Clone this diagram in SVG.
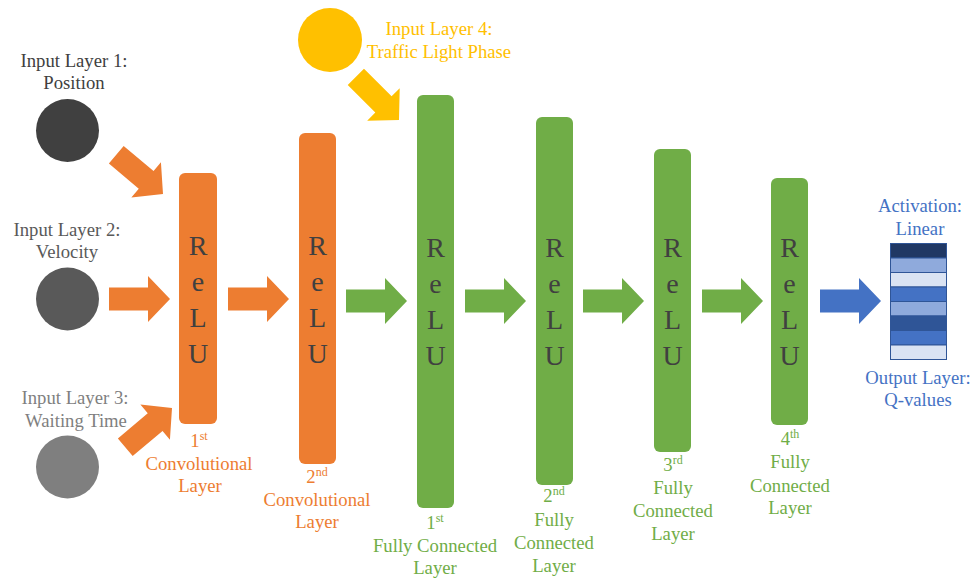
<svg xmlns="http://www.w3.org/2000/svg" xmlns:xlink="http://www.w3.org/1999/xlink" width="979" height="581" viewBox="0 0 979 581">
<style>
text{font-size:18.7px;text-anchor:middle}
.relu{font-size:28px;fill:#404040}
.or{fill:#ED7D31}.gr{fill:#70AD47}.bl{fill:#4472C4}.ye{fill:#FFC000}
.sup{font-size:12px}
.stripe{stroke:#2F5597;stroke-width:1}
</style>
<defs>
<path id="arr" d="M-61,-11.5 H-22 V-23 L0,0 L-22,23 V11.5 H-61 Z"/>
</defs>
<rect width="979" height="581" fill="#fff"/>
<g id="connectors">
<use xlink:href="#arr" class="or" transform="translate(163,194) rotate(40)"/>
<use xlink:href="#arr" class="or" transform="translate(170,299)"/>
<use xlink:href="#arr" class="or" transform="translate(172,408) rotate(-40)"/>
<use xlink:href="#arr" class="ye" transform="translate(399,120) rotate(45)"/>
<use xlink:href="#arr" class="or" transform="translate(289,299)"/>
<use xlink:href="#arr" class="gr" transform="translate(407,301)"/>
<use xlink:href="#arr" class="gr" transform="translate(526,301)"/>
<use xlink:href="#arr" class="gr" transform="translate(644,301)"/>
<use xlink:href="#arr" class="gr" transform="translate(763,301)"/>
<use xlink:href="#arr" class="bl" transform="translate(881,301)"/>
</g>
<g font-family="Liberation Serif, Tinos, DejaVu Serif, serif">
<g id="input1">
<circle cx="67.5" cy="130.5" r="31.5" fill="#404040"/>
<text x="74" y="67" fill="#404040">Input Layer 1:</text>
<text x="74" y="89" fill="#404040">Position</text>
</g>
<g id="input2">
<circle cx="67.5" cy="299" r="31.5" fill="#595959"/>
<text x="67" y="236" fill="#595959">Input Layer 2:</text>
<text x="67" y="258" fill="#595959">Velocity</text>
</g>
<g id="input3">
<circle cx="67.5" cy="467" r="31.5" fill="#7F7F7F"/>
<text x="75" y="404" fill="#7F7F7F">Input Layer 3:</text>
<text x="76" y="427" fill="#7F7F7F">Waiting Time</text>
</g>
<g id="input4">
<circle cx="330" cy="40" r="32" fill="#FFC000"/>
<text x="439" y="35" class="ye">Input Layer 4:</text>
<text x="439" y="58" class="ye">Traffic Light Phase</text>
</g>
<g id="conv1">
<rect x="179" y="173" width="38" height="251" rx="6" class="or"/>
<text x="198" y="255" class="relu">R</text>
<text x="198" y="291" class="relu">e</text>
<text x="198" y="327" class="relu">L</text>
<text x="198" y="363" class="relu">U</text>
<text x="199" y="447" class="or">1<tspan class="sup" dy="-7">st</tspan></text>
<text x="199" y="470" class="or">Convolutional</text>
<text x="200" y="492" class="or">Layer</text>
</g>
<g id="conv2">
<rect x="299" y="133" width="37" height="331" rx="6" class="or"/>
<text x="317.5" y="255" class="relu">R</text>
<text x="317.5" y="291" class="relu">e</text>
<text x="317.5" y="327" class="relu">L</text>
<text x="317.5" y="363" class="relu">U</text>
<text x="317" y="483" class="or">2<tspan class="sup" dy="-7">nd</tspan></text>
<text x="317" y="506" class="or">Convolutional</text>
<text x="317" y="528" class="or">Layer</text>
</g>
<g id="fc1">
<rect x="417" y="95" width="37" height="413" rx="6" class="gr"/>
<text x="435.5" y="257" class="relu">R</text>
<text x="435.5" y="293" class="relu">e</text>
<text x="435.5" y="329" class="relu">L</text>
<text x="435.5" y="365" class="relu">U</text>
<text x="435" y="529" class="gr">1<tspan class="sup" dy="-7">st</tspan></text>
<text x="435" y="552" class="gr">Fully Connected</text>
<text x="435" y="574" class="gr">Layer</text>
</g>
<g id="fc2">
<rect x="536" y="117" width="37" height="368" rx="6" class="gr"/>
<text x="554.5" y="257" class="relu">R</text>
<text x="554.5" y="293" class="relu">e</text>
<text x="554.5" y="329" class="relu">L</text>
<text x="554.5" y="365" class="relu">U</text>
<text x="554" y="502" class="gr">2<tspan class="sup" dy="-7">nd</tspan></text>
<text x="554" y="526" class="gr">Fully</text>
<text x="554" y="549" class="gr">Connected</text>
<text x="554" y="572" class="gr">Layer</text>
</g>
<g id="fc3">
<rect x="654" y="149" width="37" height="303" rx="6" class="gr"/>
<text x="672.5" y="257" class="relu">R</text>
<text x="672.5" y="293" class="relu">e</text>
<text x="672.5" y="329" class="relu">L</text>
<text x="672.5" y="365" class="relu">U</text>
<text x="673" y="471" class="gr">3<tspan class="sup" dy="-7">rd</tspan></text>
<text x="673" y="494" class="gr">Fully</text>
<text x="673" y="517" class="gr">Connected</text>
<text x="673" y="540" class="gr">Layer</text>
</g>
<g id="fc4">
<rect x="771" y="178" width="37" height="247" rx="6" class="gr"/>
<text x="789.5" y="257" class="relu">R</text>
<text x="789.5" y="293" class="relu">e</text>
<text x="789.5" y="329" class="relu">L</text>
<text x="789.5" y="365" class="relu">U</text>
<text x="790" y="445" class="gr">4<tspan class="sup" dy="-7">th</tspan></text>
<text x="790" y="468" class="gr">Fully</text>
<text x="790" y="492" class="gr">Connected</text>
<text x="790" y="514" class="gr">Layer</text>
</g>
<g id="output">
<rect class="stripe" x="890.5" y="243.5" width="56" height="14.5" fill="#203864"/>
<rect class="stripe" x="890.5" y="258" width="56" height="14.5" fill="#8FAADC"/>
<rect class="stripe" x="890.5" y="272.5" width="56" height="14.5" fill="#DAE3F3"/>
<rect class="stripe" x="890.5" y="287" width="56" height="14.5" fill="#4472C4"/>
<rect class="stripe" x="890.5" y="301.5" width="56" height="14.5" fill="#8FAADC"/>
<rect class="stripe" x="890.5" y="316" width="56" height="14.5" fill="#2F5597"/>
<rect class="stripe" x="890.5" y="330.5" width="56" height="14.5" fill="#4472C4"/>
<rect class="stripe" x="890.5" y="345" width="56" height="14.5" fill="#DAE3F3"/>
<text x="920" y="212" class="bl">Activation:</text>
<text x="920" y="235" class="bl">Linear</text>
<text x="918" y="384" class="bl">Output Layer:</text>
<text x="918" y="406" class="bl">Q-values</text>
</g>
</g>
</svg>
